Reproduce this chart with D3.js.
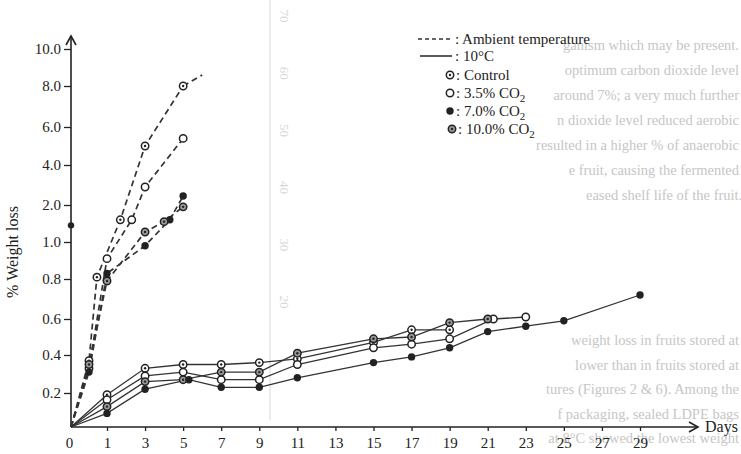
<!DOCTYPE html>
<html>
<head>
<meta charset="utf-8">
<script src="https://cdnjs.cloudflare.com/ajax/libs/d3/7.8.5/d3.min.js"></script>
<style>
body { margin: 0; background: #fff; }
svg { display: block; }
text { font-family: "Liberation Serif", "DejaVu Serif", serif; }
</style>
</head>
<body>
<div id="chart"></div>
<script>
var width = 741;
var height = 454;

// axis ticks (broken scales: 0-1 by 0.2 then 2-10 by 2; day 0, then odd days)
var yTicks = [0, 0.2, 0.4, 0.6, 0.8, 1.0, 2.0, 4.0, 6.0, 8.0, 10.0];
var xTicks = [0, 1, 3, 5, 7, 9, 11, 13, 15, 17, 19, 21, 23, 25, 27, 29];

// ambient temperature (dashed)
var ambControlDays = [0, 0.5, 0.72, 1.7, 3, 5];
var ambControl     = [0, 0.37, 0.81, 1.6, 5.0, 8.0];
var ambControlTail = [6, 8.6];
var amb35Days = [0, 0.5, 1, 2.3, 3, 5];
var amb35     = [0, 0.33, 0.91, 1.6, 2.9, 5.4];
var amb7Days  = [0, 0.5, 1, 3, 4.3, 5];
var amb7      = [0, 0.31, 0.83, 0.98, 1.6, 2.45];
var amb10Days = [0, 0.5, 1, 3, 4, 5];
var amb10     = [0, 0.35, 0.79, 1.27, 1.55, 1.95];

// 10 C (solid)
var coldControlDays = [0, 1, 3, 5, 7, 9, 11, 15, 17, 19];
var coldControl     = [0, .19, .33, .35, .35, .36, .38, .47, .54, .54];
var cold35Days = [0, 1, 3, 5, 7, 9, 11, 15, 17, 19, 21.3, 23];
var cold35     = [0, .16, .29, .31, .27, .27, .35, .44, .46, .49, .60, .61];
var cold10Days = [0, 1, 3, 5, 7, 9, 11, 15, 17, 19, 21];
var cold10     = [0, .12, .26, .27, .31, .31, .41, .49, .50, .58, .60];
var cold7Days  = [0, 1, 3, 5.3, 7, 9, 11, 15, 17, 19, 21, 23, 25, 29];
var cold7      = [0, .08, .22, .27, .23, .23, .28, .36, .39, .44, .53, .56, .59, .72];

var axisBreak = [1.45];

var legendLines = [": Ambient temperature", ": 10\u00b0C"];
var legendMarks = ["control", "cs35", "cs7", "cs10"];
var legendNames = [": Control", ": 3.5% CO", ": 7.0% CO", ": 10.0% CO"];

// text from the facing page showing through the paper
var ghostTop = ["ganism which may be present.", "optimum carbon dioxide level", "around 7%; a very much further",
    "n dioxide level reduced aerobic", "resulted in a higher % of anaerobic", "e fruit, causing the fermented",
    "eased shelf life of the fruit."];
var ghostBottom = ["weight loss in fruits stored at", "lower than in fruits stored at",
    "tures (Figures 2 & 6). Among the", "f packaging, sealed LDPE bags", "at 8\u00b0C showed the lowest weight"];
var ghostTicks = [70, 60, 50, 40, 30, 20];

var svg = d3.select("#chart").append("svg")
    .attr("width", width)
    .attr("height", height);

var y = d3.scaleLinear()
    .domain(yTicks)
    .range([427, 393, 355, 319, 279, 242, 205, 165, 127, 86, 49]);

var x = d3.scaleLinear()
    .domain([0, 1, 29])
    .range([71, 107, 640]);

// faint show-through, right aligned like the justified column it came from
var ghost = svg.append("g").attr("fill", "#c6c6c6").style("font-size", "14.5px");
ghost.selectAll(".gt").data(ghostTop).enter().append("text")
    .attr("x", (d, i) => i === ghostTop.length - 1 ? 586 : 739)
    .attr("text-anchor", (d, i) => i === ghostTop.length - 1 ? "start" : "end")
    .attr("y", (d, i) => 50 + i * 25)
    .text(d => d);
ghost.selectAll(".gb").data(ghostBottom).enter().append("text")
    .attr("x", 739).attr("text-anchor", "end")
    .attr("y", (d, i) => 345 + i * 24.5)
    .text(d => d);
var gy = d3.scaleLinear().domain([20, 70]).range([302, 16]);
svg.append("line").attr("x1", 270).attr("x2", 270).attr("y1", 0).attr("y2", 420)
    .attr("stroke", "#e6e6e6").attr("stroke-width", 1.5);
ghost.selectAll(".gk").data(ghostTicks).enter().append("text")
    .attr("transform", d => "translate(280," + gy(d) + ") rotate(90)")
    .attr("text-anchor", "middle").style("font-size", "13px").attr("fill", "#d8d8d8")
    .text(d => d);

// axes
var yAxis = svg.append("g")
    .attr("transform", "translate(71,0)")
    .call(d3.axisLeft(y).tickValues(yTicks.slice(1)).tickFormat(d3.format(".1f")).tickSize(7).tickPadding(3));
yAxis.select(".domain").remove();
yAxis.selectAll("line").attr("stroke", "#222").attr("stroke-width", 1.3);
yAxis.selectAll("text").attr("fill", "#222").style("font-size", "15px")
    .style("font-family", "'Liberation Serif', serif");

var xAxis = svg.append("g")
    .attr("transform", "translate(0,427)")
    .call(d3.axisBottom(x).tickValues(xTicks).tickFormat(d3.format("d")).tickSize(4).tickPadding(6));
xAxis.select(".domain").remove();
xAxis.selectAll("line").attr("stroke", "#222").attr("stroke-width", 1.3)
    .attr("opacity", d => d === 0 ? 0 : 1);
xAxis.selectAll("text").attr("fill", "#222").style("font-size", "15px")
    .style("font-family", "'Liberation Serif', serif")
    .attr("dx", d => d === 0 ? -2 : 0);

var axisColor = "#222";
svg.append("line").attr("x1", 71).attr("x2", 71).attr("y1", 427).attr("y2", 36)
    .attr("stroke", axisColor).attr("stroke-width", 1.6);
svg.append("path").attr("d", "M66,45L71,36L76,45").attr("fill", "none")
    .attr("stroke", axisColor).attr("stroke-width", 1.6);
svg.append("line").attr("x1", 71).attr("x2", 698).attr("y1", 427).attr("y2", 427)
    .attr("stroke", axisColor).attr("stroke-width", 1.6);
svg.append("path").attr("d", "M689,422L698,427L689,432").attr("fill", "none")
    .attr("stroke", axisColor).attr("stroke-width", 1.6);

svg.append("text").attr("x", 705).attr("y", 432).attr("fill", "#222")
    .style("font-size", "16px").text("Days");
svg.append("text").attr("transform", "translate(18,252) rotate(-90)")
    .attr("text-anchor", "middle").attr("fill", "#222").style("font-size", "16px")
    .text("% Weight loss");

svg.selectAll(".brk").data(axisBreak).enter().append("circle")
    .attr("cx", 71).attr("cy", d => y(d)).attr("r", 3.2).attr("fill", "#222");

// series
function pts(days, vals) {
    return days.map((d, i) => ({ day: d, v: vals[i] }));
}

var series = [
    { kind: "amb", mark: "control", data: pts(ambControlDays, ambControl) },
    { kind: "amb", mark: "cs35", data: pts(amb35Days, amb35) },
    { kind: "amb", mark: "cs7", data: pts(amb7Days, amb7) },
    { kind: "amb", mark: "cs10", data: pts(amb10Days, amb10) },
    { kind: "cold", mark: "control", data: pts(coldControlDays, coldControl) },
    { kind: "cold", mark: "cs35", data: pts(cold35Days, cold35) },
    { kind: "cold", mark: "cs10", data: pts(cold10Days, cold10) },
    { kind: "cold", mark: "cs7", data: pts(cold7Days, cold7) }
];

var line = d3.line().x(d => x(d.day)).y(d => y(d.v));

svg.selectAll(".series").data(series).enter().append("path")
    .attr("class", "series")
    .attr("d", d => line(d.data))
    .attr("fill", "none")
    .attr("stroke", "#333")
    .attr("stroke-width", d => d.kind === "amb" ? 1.7 : 1.3)
    .attr("stroke-dasharray", d => d.kind === "amb" ? "6,4" : null);

// trailing piece of the top dashed curve
svg.append("path")
    .attr("d", line([{ day: 5, v: 8.0 }, { day: ambControlTail[0], v: ambControlTail[1] }]))
    .attr("fill", "none").attr("stroke", "#333").attr("stroke-width", 1.7)
    .attr("stroke-dasharray", "6,4");

function drawMark(g, type, cx, cy) {
    if (type === "cs7") {
        g.append("circle").attr("cx", cx).attr("cy", cy).attr("r", 3.7).attr("fill", "#222");
        return;
    }
    g.append("circle").attr("cx", cx).attr("cy", cy).attr("r", 3.7)
        .attr("fill", type === "cs10" ? "#9a9a9a" : "#fff")
        .attr("stroke", "#222").attr("stroke-width", 1.5);
    if (type === "control" || type === "cs10") {
        g.append("circle").attr("cx", cx).attr("cy", cy).attr("r", 1.2).attr("fill", "#222");
    }
}

var marks = svg.append("g");
series.forEach(function(s) {
    s.data.forEach(function(p) {
        if (p.v > 0) drawMark(marks, s.mark, x(p.day), y(p.v));
    });
});

// legend
var legend = svg.append("g").attr("fill", "#222").style("font-size", "15px");
legend.append("line").attr("x1", 418).attr("x2", 452).attr("y1", 39).attr("y2", 39)
    .attr("stroke", "#333").attr("stroke-width", 1.4).attr("stroke-dasharray", "4,3");
legend.append("line").attr("x1", 420).attr("x2", 452).attr("y1", 56).attr("y2", 56)
    .attr("stroke", "#333").attr("stroke-width", 1.6);
legend.selectAll(".ll").data(legendLines).enter().append("text")
    .attr("x", 455).attr("y", (d, i) => 44 + i * 17).text(d => d);

legendMarks.forEach(function(m, i) {
    drawMark(legend, m, 450 + (i === 3 ? 2 : 0), 75 + i * 18);
});
var lt = legend.selectAll(".ln").data(legendNames).enter().append("text")
    .attr("x", (d, i) => i === 3 ? 458 : 456).attr("y", (d, i) => 80 + i * 18);
lt.text(d => d);
lt.filter((d, i) => i > 0).append("tspan").attr("dy", 4).style("font-size", "11px").text("2");
</script>
</body>
</html>
